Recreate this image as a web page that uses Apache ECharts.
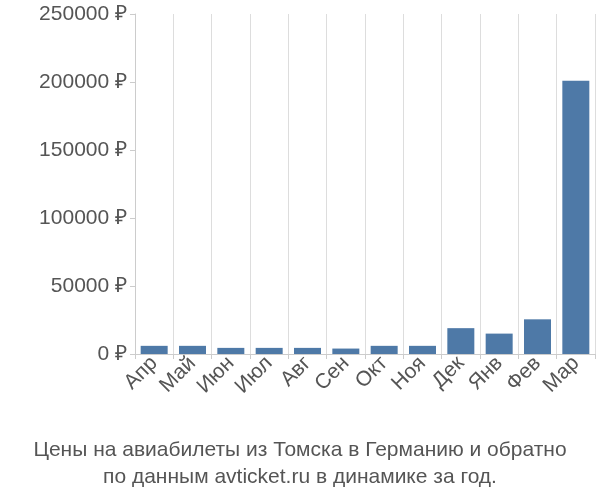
<!DOCTYPE html>
<html><head><meta charset="utf-8">
<script src="https://cdn.jsdelivr.net/npm/echarts@6/dist/echarts.min.js"></script>
<style>body{margin:0}#c{width:600px;height:500px}</style></head>
<body><div id="c"></div>
<script>
const categories=["Апр","Май","Июн","Июл","Авг","Сен","Окт","Ноя","Дек","Янв","Фев","Мар"];
const prices=[6000,6000,4500,4500,4500,4000,6000,6000,19000,15000,25500,201000];
const title1="Цены на авиабилеты из Томска в Германию и обратно";
const title2="по данным avticket.ru в динамике за год.";
const chart=echarts.init(document.getElementById('c'));
chart.setOption({
  animation:false,
  title:{text:title1+"\n"+title2,left:'center',top:432,textStyle:{fontFamily:'Liberation Sans',fontSize:21,fontWeight:'normal',color:'#555',lineHeight:27}},
  grid:{left:135,right:5,top:14,bottom:146},
  xAxis:{type:'category',data:categories,
    axisLine:{lineStyle:{color:'#ccc'}},axisTick:{show:true,lineStyle:{color:'#ccc'}},
    splitLine:{show:true,lineStyle:{color:'#ddd'}},
    axisLabel:{rotate:45,fontFamily:'Liberation Sans',fontSize:21,color:'#555',interval:0,margin:6}},
  yAxis:{type:'value',min:0,max:250000,interval:50000,
    axisLine:{show:true,lineStyle:{color:'#ccc'}},axisTick:{show:true,lineStyle:{color:'#ccc'}},
    splitLine:{show:false},
    axisLabel:{formatter:v=>v+' ₽',fontFamily:'Liberation Sans',fontSize:21,color:'#555'}},
  series:[{type:'bar',data:prices,barWidth:27,itemStyle:{color:'#4e79a7'}}]
});
</script></body></html>
